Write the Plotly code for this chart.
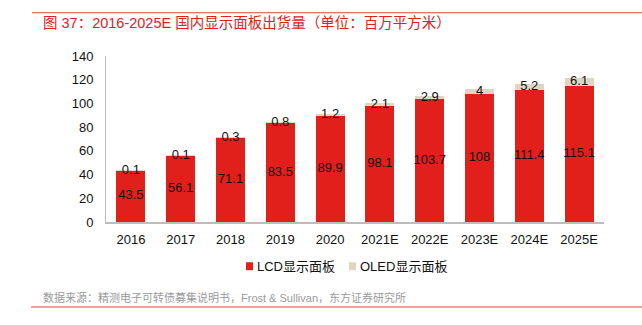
import plotly.graph_objects as go

# 国内显示面板出货量（百万平方米）
years = ["2016", "2017", "2018", "2019", "2020", "2021E", "2022E", "2023E", "2024E", "2025E"]
lcd = [43.5, 56.1, 71.1, 83.5, 89.9, 98.1, 103.7, 108, 111.4, 115.1]
oled = [0.1, 0.1, 0.3, 0.8, 1.2, 2.1, 2.9, 4, 5.2, 6.1]
y_ticks = [0, 20, 40, 60, 80, 100, 120, 140]
series_names = ["LCD显示面板", "OLED显示面板"]

RED = "#E2201B"
BEIGE = "#DED6C1"
NUM_FONT = "Liberation Sans, Arial, sans-serif"
MIX_FONT = "Liberation Sans, Noto Sans CJK SC, sans-serif"

W, H = 642, 325
L, R, T, B = 106, 38, 55.5, 102.5
pw, ph = W - L - R, H - T - B


def px(x):
    return (x - L) / pw


def py(y):
    return (H - B - y) / ph


label_font = dict(color="#111111", size=13, family=NUM_FONT)

fig = go.Figure()
fig.add_trace(go.Bar(
    x=years, y=lcd, name=series_names[0], marker=dict(color=RED, line=dict(width=0)),
    hoverinfo="x+y",
))
fig.add_trace(go.Bar(
    x=years, y=oled, name=series_names[1], marker=dict(color=BEIGE, line=dict(width=0)),
    hoverinfo="x+y",
))
# LCD values centred in the red segment
fig.add_trace(go.Scatter(
    x=years, y=[v / 2 for v in lcd], mode="text",
    text=[f"{v:g}" for v in lcd], textposition="middle center",
    textfont=label_font, showlegend=False, hoverinfo="skip", cliponaxis=False,
))
# OLED values centred on the thin top segment, overflowing it
fig.add_trace(go.Scatter(
    x=years, y=[a + b / 2 for a, b in zip(lcd, oled)], mode="text",
    text=[f"{v:g}" for v in oled], textposition="middle center",
    textfont=label_font, showlegend=False, hoverinfo="skip", cliponaxis=False,
))

fig.update_layout(
    width=W, height=H, barmode="stack", bargap=0.42,
    margin=dict(l=L, r=R, t=T, b=B, autoexpand=False),
    plot_bgcolor="white", paper_bgcolor="white",
    font=dict(family=NUM_FONT, size=13, color="#111111"),
    showlegend=False,
    xaxis=dict(
        showgrid=False, showline=True, linecolor="#BDBDBD", linewidth=1.5,
        ticks="", tickfont=dict(family=NUM_FONT, size=13, color="#111111"),
        ticklabelstandoff=5,
    ),
    yaxis=dict(
        range=[0, 140], tickvals=y_ticks, showgrid=False, zeroline=False,
        showline=True, linecolor="#BDBDBD", linewidth=1,
        ticks="", tickfont=dict(family=NUM_FONT, size=13, color="#111111"),
        ticklabelstandoff=9,
    ),
)

# compact legend: small colour square followed closely by the series name
legend_items = [(series_names[0], RED, 246), (series_names[1], BEIGE, 349)]
for name, color, x0 in legend_items:
    fig.add_shape(type="rect", xref="paper", yref="paper",
                  x0=px(x0), x1=px(x0 + 7), y0=py(271), y1=py(263),
                  fillcolor=color, line=dict(width=0))
    fig.add_annotation(
        x=px(x0 + 9), y=py(267), xref="paper", yref="paper", xanchor="left", yanchor="middle",
        text=name, showarrow=False, font=dict(family=MIX_FONT, size=13, color="#111111"),
    )

fig.add_annotation(
    x=px(41), y=py(22), xref="paper", yref="paper", xanchor="left", yanchor="middle",
    text="图 37：2016-2025E 国内显示面板出货量（单位：百万平方米）", showarrow=False,
    font=dict(family=MIX_FONT, size=14.5, color=RED),
)
fig.add_annotation(
    x=px(41), y=py(298), xref="paper", yref="paper", xanchor="left", yanchor="middle",
    text="数据来源：精测电子可转债募集说明书，Frost &amp; Sullivan，东方证券研究所", showarrow=False,
    font=dict(family=MIX_FONT, size=11, color="#9A9A9A"),
)
fig.add_shape(type="line", xref="paper", yref="paper",
              x0=px(32), x1=px(642), y0=py(12), y1=py(12),
              line=dict(color="#E8413B", width=1))
fig.add_shape(type="line", xref="paper", yref="paper",
              x0=px(31), x1=px(642), y0=py(308), y1=py(308),
              line=dict(color="#E8413B", width=1))

fig.write_html("out.html")
